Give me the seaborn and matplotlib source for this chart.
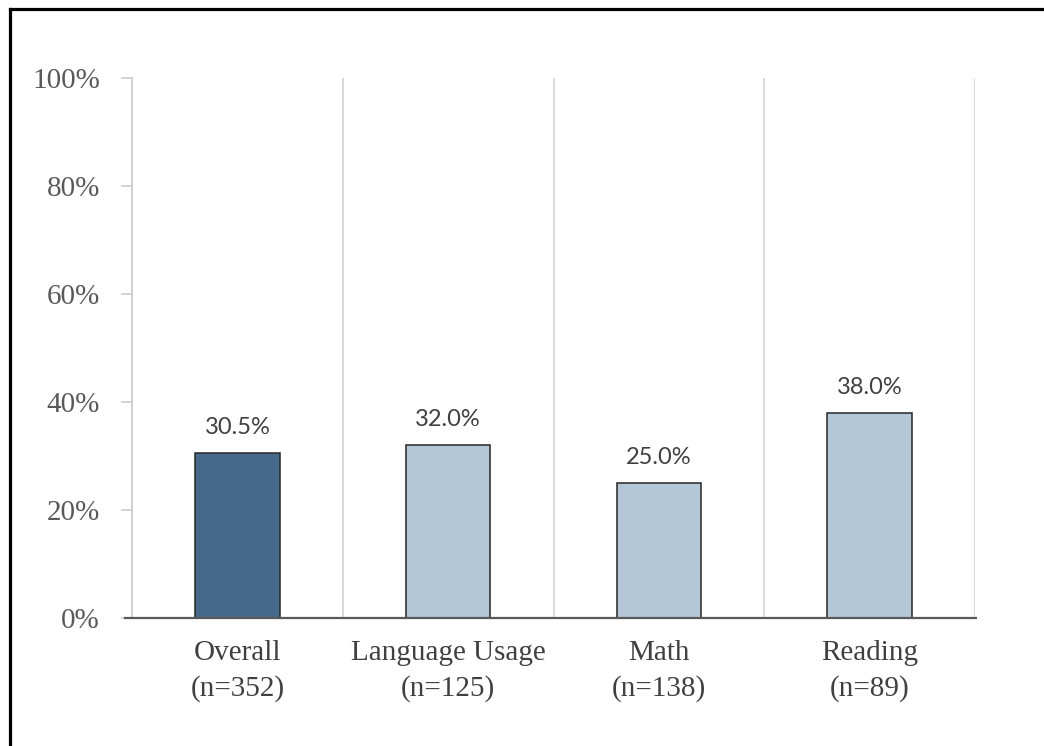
import matplotlib
matplotlib.use("Agg")
import matplotlib.pyplot as plt
from matplotlib.lines import Line2D
from matplotlib.ticker import FuncFormatter, FixedLocator
import seaborn as sns
import pandas as pd

# Chart data
subjects = ["Overall", "Language Usage", "Math", "Reading"]
sample_sizes = [352, 125, 138, 89]
percentages = [30.5, 32.0, 25.0, 38.0]
y_ticks = [0, 20, 40, 60, 80, 100]

bar_colors = ["#476A8C", "#B4C7D6", "#B4C7D6", "#B4C7D6"]

labels = [f"{s}\n(n={n})" for s, n in zip(subjects, sample_sizes)]
df = pd.DataFrame({"label": labels, "pct": percentages})

sns.set_theme(style="white")
plt.rcParams["font.family"] = ["Liberation Serif", "DejaVu Serif"]

fig = plt.figure(figsize=(10.44, 7.46), dpi=100)
ax = fig.add_axes([132 / 1044, 1 - 618 / 746, (975 - 132) / 1044, (618 - 78) / 746])

sns.barplot(data=df, x="label", y="pct", hue="label", palette=bar_colors,
            saturation=1, legend=False, width=0.4, edgecolor="#262626",
            linewidth=1.1, ax=ax, zorder=3)

ax.set_xlim(-0.5, len(subjects) - 0.5)
ax.set_ylim(0, 100)
ax.set_xlabel("")
ax.set_ylabel("")

# Y axis
ax.yaxis.set_major_locator(FixedLocator(y_ticks))
ax.yaxis.set_major_formatter(FuncFormatter(lambda v, _: f"{v:.0f}%"))
ax.tick_params(axis="y", which="major", left=True, length=8, width=1.3,
               color="#D0D0D0", labelsize=21, labelcolor="#595959", pad=15)

# X axis: category labels and separators between categories
ax.tick_params(axis="x", which="major", bottom=False, labelsize=21,
               labelcolor="#404040", pad=10)
for t in ax.get_xticklabels():
    t.set_linespacing(1.45)
ax.xaxis.set_minor_locator(FixedLocator([i + 0.5 for i in range(len(subjects))]))
ax.tick_params(axis="x", which="minor", bottom=False)
ax.grid(False)
ax.grid(axis="x", which="minor", color="#D9D9D9", linewidth=1.4, zorder=0)

for side in ["top", "right"]:
    ax.spines[side].set_visible(False)
ax.spines["left"].set_color("#D0D0D0")
ax.spines["left"].set_linewidth(1.4)
ax.spines["bottom"].set_visible(False)

# Baseline, slightly extended to the left like the ticks
ax.plot([-0.5 - 8 / 210.75, len(subjects) - 0.5 + 2 / 210.75], [0, 0],
        color="#595959", linewidth=1.6, clip_on=False, zorder=4,
        solid_capstyle="butt")

# Value labels
for i, v in enumerate(percentages):
    ax.annotate(f"{v:.1f}%", xy=(i, v), xytext=(0, 11),
                textcoords="offset points", ha="center", va="bottom",
                fontsize=17, color="#404040", family=["Lato", "DejaVu Sans"])

# Outer frame (left and top edges)
fig.add_artist(Line2D([9.5 / 1044, 9.5 / 1044], [0, 1 - 8.5 / 746],
                      transform=fig.transFigure, color="black", linewidth=2.3,
                      solid_capstyle="projecting"))
fig.add_artist(Line2D([9.5 / 1044, 1], [1 - 8.5 / 746, 1 - 8.5 / 746],
                      transform=fig.transFigure, color="black", linewidth=2.3,
                      solid_capstyle="projecting"))

fig.savefig("out.png", dpi=100, facecolor="white")
